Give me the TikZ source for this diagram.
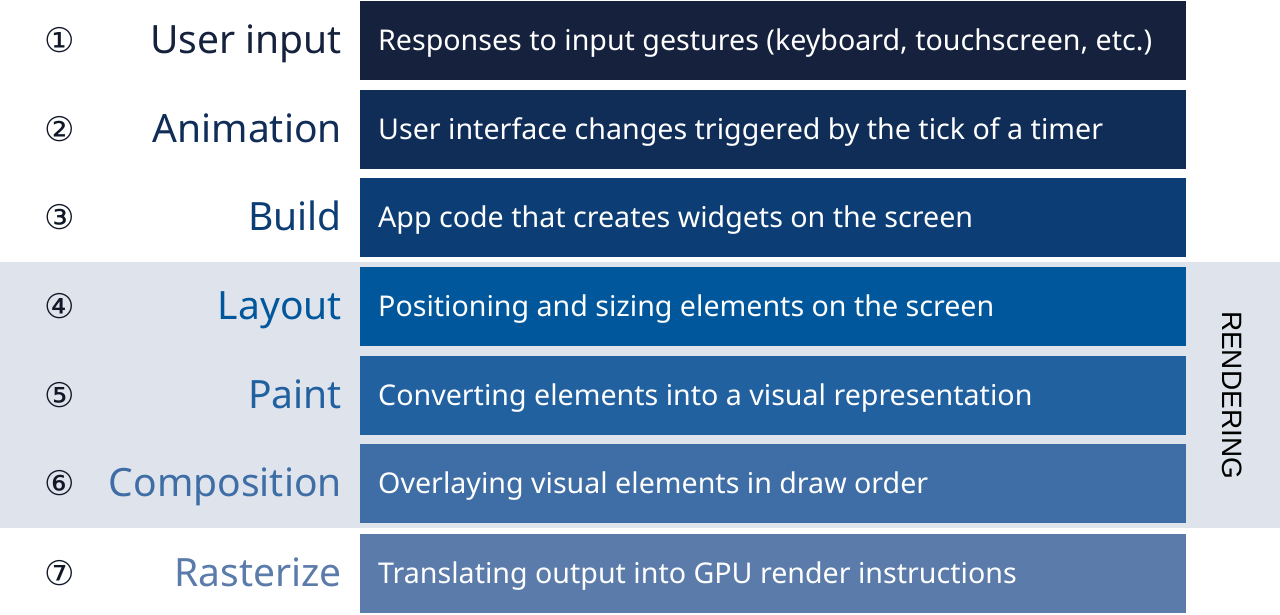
\documentclass[tikz,border=0pt]{standalone}
\usepackage{fontspec}
\setmainfont{Noto Sans}
\newfontfamily\symfont{DejaVu Sans}
\newfontfamily\rendfont{Liberation Sans}
\definecolor{cA}{HTML}{15213D}
\definecolor{cB}{HTML}{102D58}
\definecolor{cC}{HTML}{0C3D74}
\definecolor{cD}{HTML}{01579B}
\definecolor{cE}{HTML}{2261A0}
\definecolor{cF}{HTML}{3E6EA5}
\definecolor{cG}{HTML}{5B7CAA}
\definecolor{band}{HTML}{DFE3EC}
\definecolor{numcol}{HTML}{101828}
\tikzset{
  barbox/.style={fill=#1, draw=none, minimum width=826pt, minimum height=79pt, inner sep=0pt, anchor=west},
  desc/.style={text=white, font=\fontsize{28.6}{32}\selectfont, anchor=base west, inner sep=0pt},
  stagelabel/.style={text=#1, font=\fontsize{39}{44}\selectfont, anchor=base east, inner sep=0pt},
  numlabel/.style={text=numcol, font=\symfont\fontsize{34}{38}\selectfont, inner sep=0pt},
}
\begin{document}
\begin{tikzpicture}[x=1pt,y=-1pt]
\useasboundingbox (0,0) rectangle (1280,614);
\fill[white] (0,0) rectangle (1280,614);
\fill[band] (0,262) rectangle (1280,528);
\foreach \i/\yc/\col/\lab/\txt/\num in {
  1/40.5/cA/User input/{Responses to input gestures (keyboard, touchscreen, etc.)}/①,
  2/129.5/cB/Animation/{User interface changes triggered by the tick of a timer}/②,
  3/217.5/cC/Build/{App code that creates widgets on the screen}/③,
  4/306.5/cD/Layout/{Positioning and sizing elements on the screen}/④,
  5/395.5/cE/Paint/{Converting elements into a visual representation}/⑤,
  6/483.5/cF/Composition/{Overlaying visual elements in draw order}/⑥,
  7/573.5/cG/Rasterize/{Translating output into GPU render instructions}/⑦}{
  \node[barbox=\col] (bar\i) at (360,\yc) {};
  \node[desc] (desc\i) at (378,\yc+10) {\txt};
  \node[stagelabel=\col] (lab\i) at (342,\yc+13) {\lab};
  \node[numlabel] (num\i) at (60,\yc) {\num};
}
\node[rotate=-90, font=\rendfont\fontsize{28}{32}\selectfont, text=black, inner sep=0pt] (rend) at (1232,395) {RENDERING};
\end{tikzpicture}
\end{document}
